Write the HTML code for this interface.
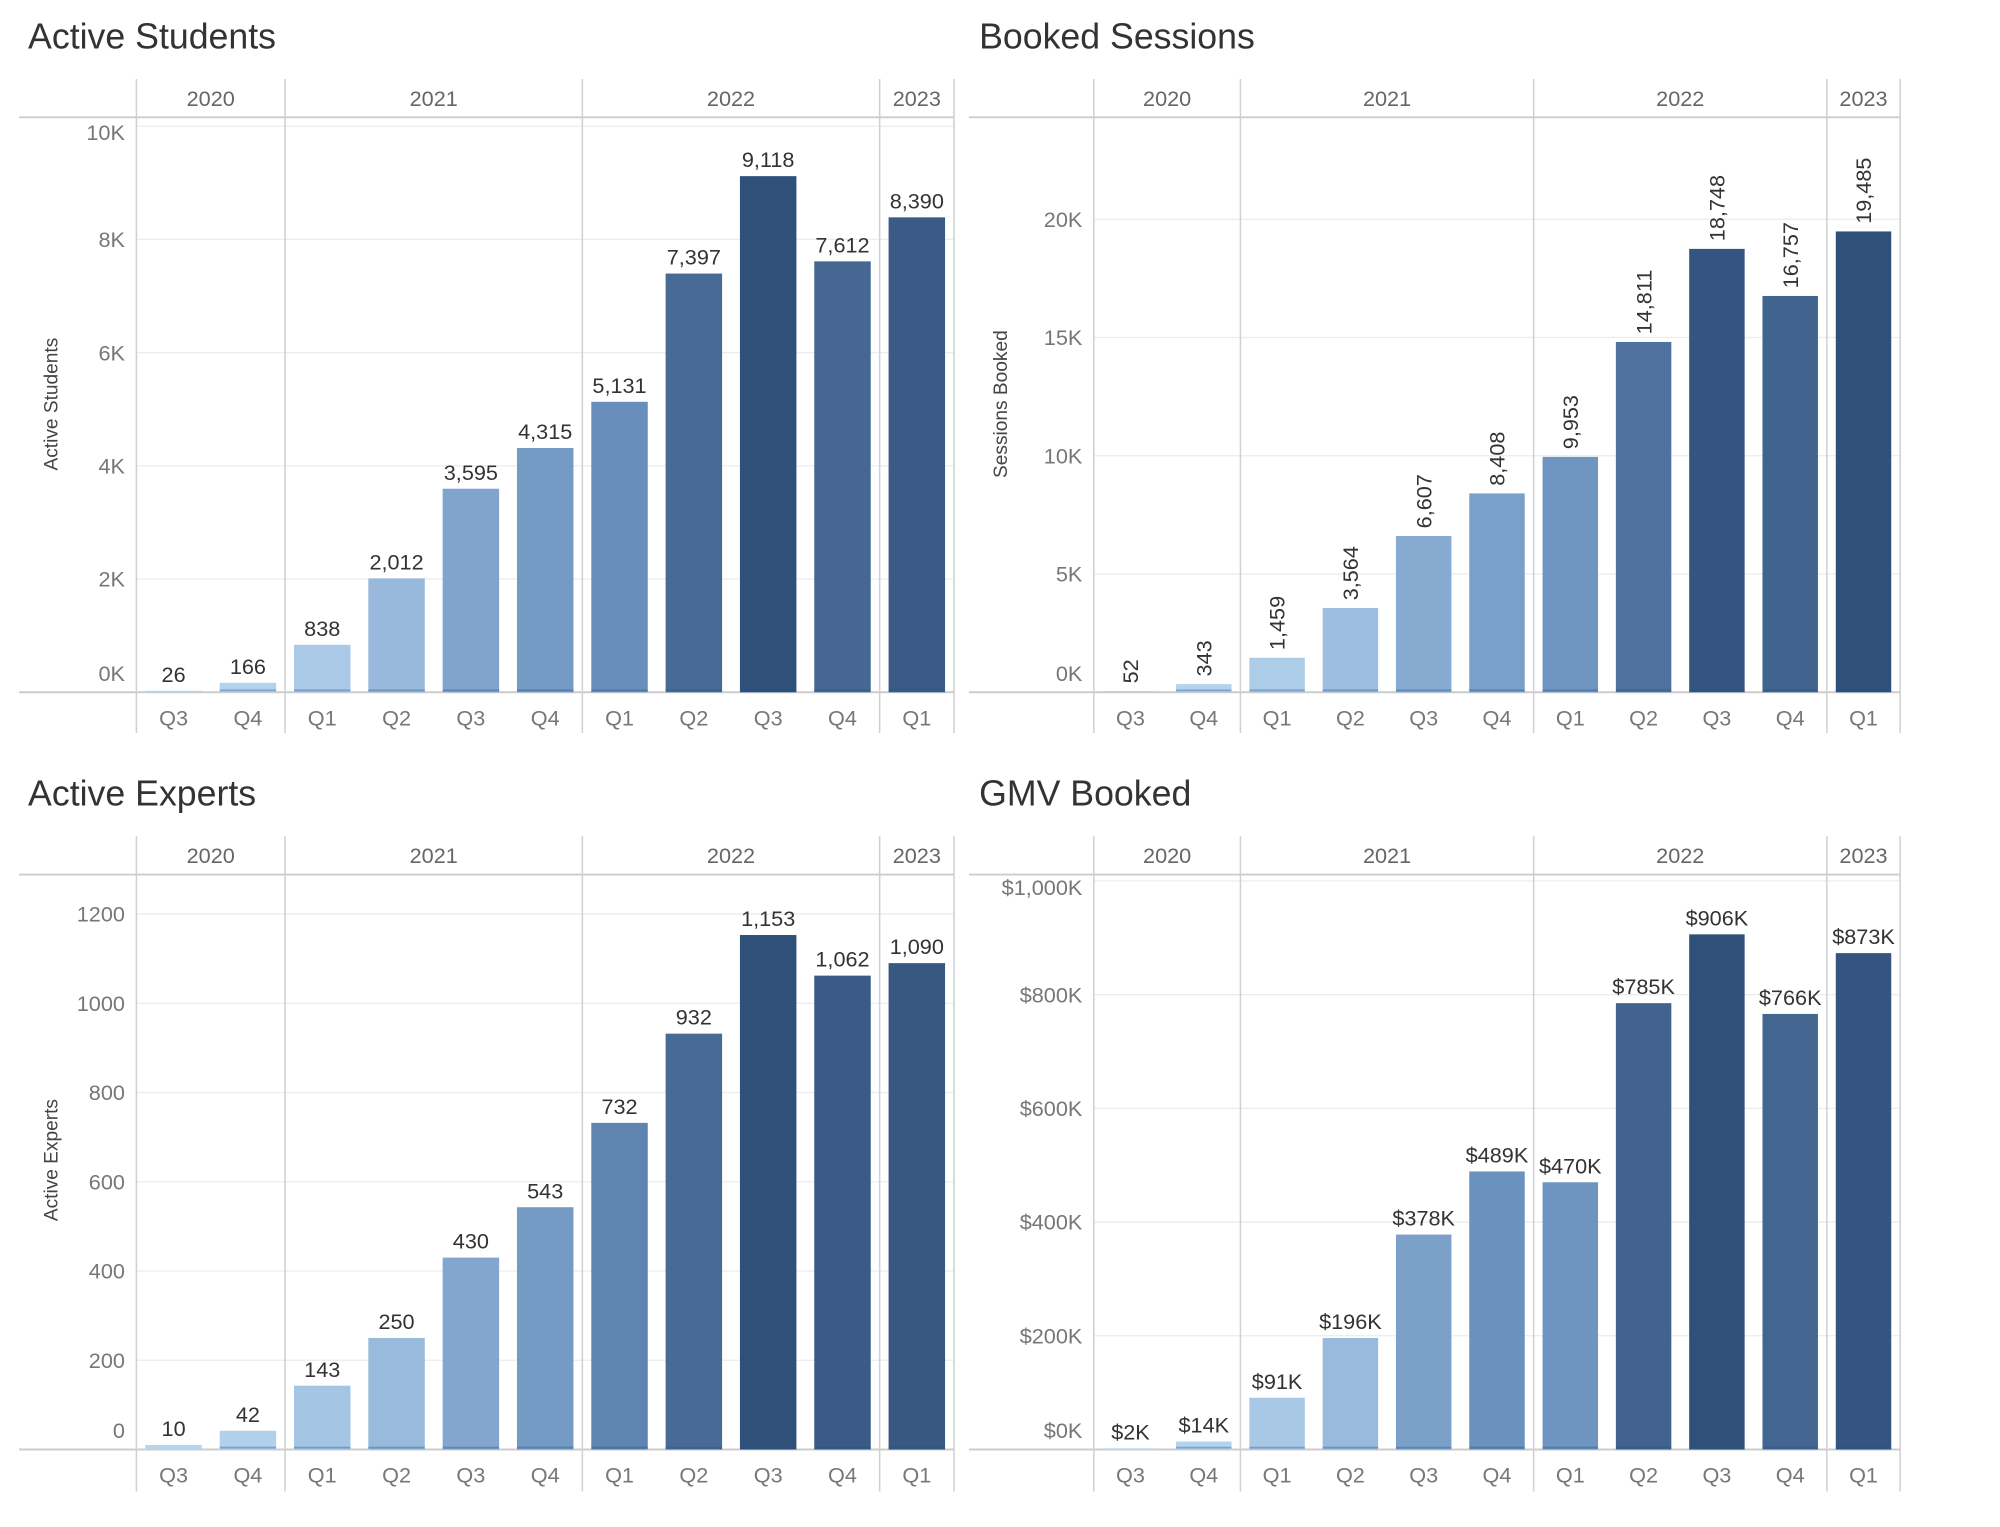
<!DOCTYPE html>
<html><head><meta charset="utf-8"><style>
html,body{margin:0;padding:0;background:#fff}
svg{display:block;font-family:"Liberation Sans",sans-serif}
</style></head><body>
<svg id="c" width="2000" height="1527" viewBox="0 0 1568.8 1197.8" xmlns="http://www.w3.org/2000/svg"></svg>
<script>
const quarters = ['Q3','Q4','Q1','Q2','Q3','Q4','Q1','Q2','Q3','Q4','Q1'];
const years = ['2020','2021','2022','2023'];
const yearSpans = [2,4,4,1];
const students = [26,166,838,2012,3595,4315,5131,7397,9118,7612,8390];
const sessions = [52,343,1459,3564,6607,8408,9953,14811,18748,16757,19485];
const experts = [10,42,143,250,430,543,732,932,1153,1062,1090];
const gmv = [2,14,91,196,378,489,470,785,906,766,873];
const studentTicks = [0,2000,4000,6000,8000,10000];
const studentTickLabels = ['0K','2K','4K','6K','8K','10K'];
const sessionTicks = [0,5000,10000,15000,20000];
const sessionTickLabels = ['0K','5K','10K','15K','20K'];
const expertTicks = [0,200,400,600,800,1000,1200];
const expertTickLabels = ['0','200','400','600','800','1000','1200'];
const gmvTicks = [0,200,400,600,800,1000];
const gmvTickLabels = ['$0K','$200K','$400K','$600K','$800K','$1,000K'];

const svg = document.getElementById('c');
const NS = 'http://www.w3.org/2000/svg';
function mk(tag, attrs, parent){const e=document.createElementNS(NS,tag);for(const k in attrs)e.setAttribute(k,attrs[k]);(parent||svg).appendChild(e);return e;}
function hex(c){return [parseInt(c.slice(1,3),16),parseInt(c.slice(3,5),16),parseInt(c.slice(5,7),16)];}
const stops=[[0,hex('#b6d5ef')],[0.55,hex('#6a90bd')],[1,hex('#2f5079')]];
function color(t){t=Math.max(0,Math.min(1,t));for(let i=0;i<stops.length-1;i++){const a=stops[i],b=stops[i+1];if(t<=b[0]){const f=(t-a[0])/(b[0]-a[0]);const c=a[1].map((v,j)=>Math.round(v+(b[1][j]-v)*f));return 'rgb('+c.join(',')+')';}}return 'rgb(47,80,121)';}

function panel(cfg){
  const g = mk('g',{});
  
  
  const x0=cfg.x0, sw=cfg.slot, right=x0+sw*quarters.length;
  const y=v=>cfg.base-(v/cfg.tickMax)*(cfg.base-cfg.tickMaxY);
  const t=mk('text',{x:cfg.titleX,y:cfg.titleY,'font-size':28,fill:'#333'},g);t.textContent=cfg.title;
  
  
  cfg.ticks.forEach((tv,i)=>{
    const yy=y(tv);
    if(tv>0){const gl=mk('line',{x1:x0,x2:right,y1:yy,y2:yy,stroke:'#ececec','stroke-width':1},g);
      
      }
    let ly=yy+6;
    if(tv===0) ly=yy-9;
    else if(yy-cfg.headerLine<14) ly=yy+11;
    const lt=mk('text',{x:x0-9,y:ly,'font-size':17,fill:'#777','text-anchor':'end'},g);
    lt.textContent=cfg.tickLabels[i];
    
    
  });
  mk('line',{x1:cfg.lineStart,x2:right,y1:cfg.headerLine,y2:cfg.headerLine,stroke:'#ccc','stroke-width':1.5},g);
  mk('line',{x1:cfg.lineStart,x2:right,y1:cfg.base,y2:cfg.base,stroke:'#ccc','stroke-width':1.5},g);
  let idx=0;
  const vx=[x0];
  yearSpans.forEach((s,i)=>{
    const xa=x0+idx*sw, xb=x0+(idx+s)*sw;
    const yl=mk('text',{x:(xa+xb)/2,y:cfg.headerTop+21,'font-size':17,fill:'#666','text-anchor':'middle'},g);
    yl.textContent=years[i];
    
    
    idx+=s;vx.push(xb);
  });
  vx.forEach(xx=>mk('line',{x1:xx,x2:xx,y1:cfg.headerTop,y2:cfg.bottom,stroke:'#d0d0d0','stroke-width':1.2},g));
  const maxV=Math.max(...cfg.values);
  cfg.values.forEach((v,i)=>{
    const bx=x0+i*sw+7, bw=sw-14, by=y(v);
    const r=mk('rect',{x:bx,y:by,width:bw,height:cfg.base-by,fill:color(v/maxV)},g);
    
    
    if(cfg.base-by>6) mk('rect',{x:bx,y:cfg.base-2.2,width:bw,height:1.5,fill:'rgba(30,80,150,0.35)'},g);
    const cx=bx+bw/2;
    let lab;
    if(cfg.rotated){
      lab=mk('text',{x:0,y:0,'font-size':17,fill:'#333',transform:'translate('+(cx+6)+','+(by-6)+') rotate(-90)'},g);
    } else {
      lab=mk('text',{x:cx,y:by-7,'font-size':17,fill:'#333','text-anchor':'middle'},g);
    }
    lab.textContent=cfg.fmt(v);
    
    
    const q=mk('text',{x:x0+i*sw+sw/2,y:cfg.base+26,'font-size':17,fill:'#777','text-anchor':'middle'},g);
    q.textContent=quarters[i];
    
    
  });
  if(cfg.axisTitle){
    const at=mk('text',{x:0,y:0,'font-size':15,fill:'#444','text-anchor':'middle',transform:'translate('+cfg.axisX+','+cfg.axisY+') rotate(-90)'},g);
    at.textContent=cfg.axisTitle;
    
    
  }
}
const comma=v=>v.toLocaleString('en-US');
panel({name:'active-students-chart',title:'Active Students',titleX:22,titleY:38,x0:107,slot:58.3,lineStart:15,headerTop:62,headerLine:92,base:543,bottom:575,
  tickMax:10000,tickMaxY:99,ticks:studentTicks,tickLabels:studentTickLabels,values:students,fmt:comma,axisTitle:'Active Students',axisX:45,axisY:317});
panel({name:'booked-sessions-chart',title:'Booked Sessions',titleX:768,titleY:38,x0:858,slot:57.5,lineStart:760,headerTop:62,headerLine:92,base:543,bottom:575,
  tickMax:20000,tickMaxY:172,ticks:sessionTicks,tickLabels:sessionTickLabels,values:sessions,fmt:comma,rotated:true,axisTitle:'Sessions Booked',axisX:790,axisY:317});
panel({name:'active-experts-chart',title:'Active Experts',titleX:22,titleY:632,x0:107,slot:58.3,lineStart:15,headerTop:656,headerLine:686,base:1137,bottom:1170,
  tickMax:1200,tickMaxY:717,ticks:expertTicks,tickLabels:expertTickLabels,values:experts,fmt:comma,axisTitle:'Active Experts',axisX:45,axisY:910});
panel({name:'gmv-booked-chart',title:'GMV Booked',titleX:768,titleY:632,x0:858,slot:57.5,lineStart:760,headerTop:656,headerLine:686,base:1137,bottom:1170,
  tickMax:1000,tickMaxY:691,ticks:gmvTicks,tickLabels:gmvTickLabels,values:gmv,fmt:v=>'$'+v+'K'});
</script>
</body></html>
